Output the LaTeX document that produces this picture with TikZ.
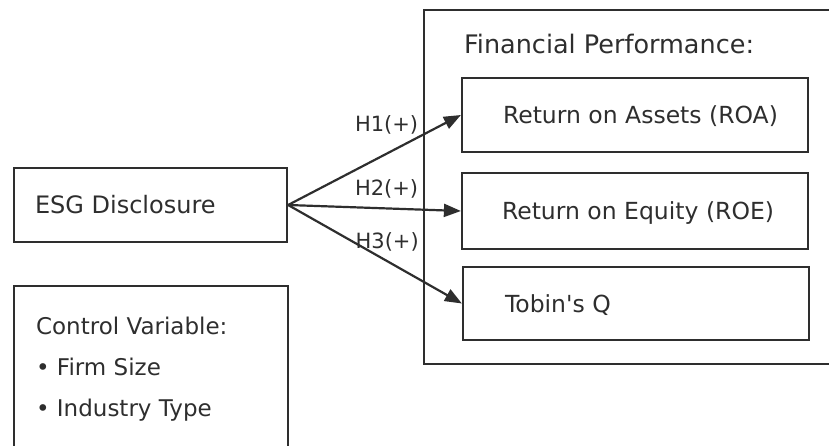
\documentclass[tikz,border=0pt]{standalone}
\usepackage{fontspec}
\setmainfont{DejaVu Sans}
\usetikzlibrary{arrows.meta, positioning}
\definecolor{ink}{HTML}{2E2E2E}

\begin{document}
\begin{tikzpicture}[x=1pt, y=-1pt, line width=2.2pt, every node/.style={text=ink},
	box/.style={draw=ink, rectangle, inner sep=0pt},
	txt/.style={inner sep=0pt, text height=17pt, text depth=0pt, font=\fontsize{23.5}{28}\selectfont},
	hlab/.style={inner sep=0pt, text height=16pt, text depth=4pt, font=\fontsize{21}{25}\selectfont},
	arr/.style={draw=ink, -{Triangle[length=17pt, width=13pt]}}]
				\clip (0,0) rectangle (829,446);

				\node[box, minimum width=273, minimum height=74] (esg) at (150.5,205) {};
				\node[txt, anchor=west, font=\fontsize{24}{28}\selectfont] (esgtxt) at ([xshift=21]esg.west) {ESG Disclosure};

				\node[box, anchor=north west, minimum width=274, minimum height=180] (ctrl) at (13,285) {};
				\node[inner sep=0pt, anchor=north west, align=left, font=\fontsize{23}{41}\selectfont] (ctrltxt) at (35,315.5) {Control Variable:\\• Firm Size\\• Industry Type};

				\node[box, anchor=north west, minimum width=430, minimum height=354] (fin) at (423,9) {};
				\node[inner sep=0pt, anchor=base west, font=\fontsize{25.5}{30}\selectfont] (fintxt) at (463,54) {Financial Performance:};

				\node[box, minimum width=346, minimum height=74] (roa) at (635,115) {};
				\node[txt, anchor=west] (roatxt) at ([xshift=41]roa.west) {Return on Assets (ROA)};

				\node[box, minimum width=346, minimum height=76] (roe) at (635,211) {};
				\node[txt, anchor=west] (roetxt) at ([xshift=40]roe.west) {Return on Equity (ROE)};

				\node[box, minimum width=346, minimum height=73] (tobin) at (636,303.5) {};
				\node[txt, anchor=west] (tobintxt) at ([xshift=42]tobin.west) {Tobin\textquotesingle s Q};

				\draw[arr] (esg.east) -- (roa.west) node[hlab, pos=.57, above=17pt] (h1) {H1(+)};
				\draw[arr] (esg.east) -- (roe.west) node[hlab, pos=.57, above=8pt] (h2) {H2(+)};
				\draw[arr] (esg.east) -- (tobin.west) node[hlab, pos=.57, above=8pt] (h3) {H3(+)};

			\end{tikzpicture}
\end{document}
